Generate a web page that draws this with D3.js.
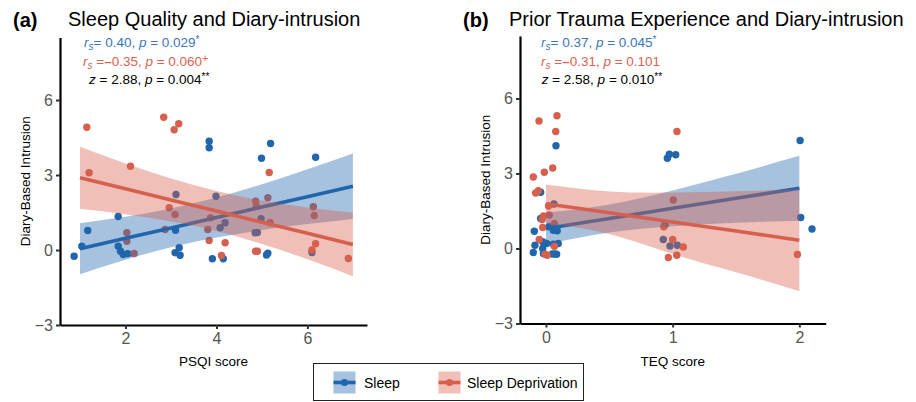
<!DOCTYPE html>
<html>
<head>
<meta charset="utf-8">
<script src="https://cdn.jsdelivr.net/npm/d3@7"></script>
<style>
body { margin: 0; background: #fff; }
text { font-family: "Liberation Sans", Arial, sans-serif; }
</style>
</head>
<body>
<div id="chart"></div>
<script>
// colours of the two conditions
var blue = "#2166ac", red = "#d6604d";
var blueText = "#3a76bb", redText = "#dc634f";

// (a) PSQI score vs diary intrusion, one [x, y] per participant (jittered as in the figure)
var psqiSleep = [[0.87,-0.25],[1.04,0.15],[1.17,0.78],[1.84,1.34],[1.84,0.15],[1.89,-0.05],[1.95,-0.18],[2.05,-0.15],
  [3.11,2.22],[3.10,0.79],[3.09,-0.11],[3.18,0.09],[3.20,-0.21],[3.84,4.35],[3.84,4.09],[3.99,2.15],[3.91,-0.35],
  [4.08,0.89],[4.19,1.09],[4.15,-0.35],[5.19,4.26],[4.99,3.67],[4.98,1.25],[4.85,0.69],[4.90,0.70],[5.10,-0.20],
  [5.13,-0.13],[6.18,3.71],[6.10,-0.10]];
var psqiDep = [[1.15,4.91],[1.20,3.09],[2.11,3.35],[2.84,5.31],[3.17,5.05],[3.07,4.81],[2.96,1.69],[3.09,1.42],
  [2.87,0.82],[2.03,0.69],[2.03,0.35],[2.19,-0.14],[3.84,0.38],[3.81,0.82],[4.11,-0.22],[4.19,0.29],[5.16,3.10],
  [4.86,1.95],[5.13,2.09],[4.88,1.75],[5.18,1.09],[4.86,-0.05],[4.90,-0.05],[6.13,1.73],[6.15,1.38],[6.18,0.25],
  [6.10,0.00],[6.90,-0.34],[3.87,1.29]];

// (a) fitted lines and confidence bands, read at these x positions
var psqiFitX = [1, 2, 3, 4, 5, 6, 7];
var psqiSleepFit = [0.05, 0.47, 0.88, 1.30, 1.72, 2.13, 2.55];
var psqiSleepLo  = [-0.97, -0.39, 0.11, 0.50, 0.80, 1.04, 1.24];
var psqiSleepHi  = [1.07, 1.33, 1.66, 2.10, 2.63, 3.23, 3.86];
var psqiDepFit = [2.89, 2.45, 2.00, 1.56, 1.11, 0.67, 0.22];
var psqiDepLo  = [1.65, 1.43, 1.14, 0.76, 0.24, -0.37, -1.05];
var psqiDepHi  = [4.13, 3.46, 2.86, 2.36, 1.98, 1.70, 1.49];

// (b) TEQ score vs diary intrusion
var teqSleep = [[0.079,4.11],[-0.042,2.25],[0.063,1.78],[-0.042,1.20],[-0.092,0.69],[0.024,0.87],[0.058,0.73],
  [0.089,0.71],[-0.087,0.13],[-0.10,-0.16],[-0.026,0.27],[0.005,0.20],[-0.026,0.00],[0.058,0.17],[0.097,0.20],
  [0.05,-0.22],[0.084,-0.23],[-0.02,-0.20],[0.07,-0.22],
  [0.958,3.61],[0.974,3.77],[1.024,3.75],[0.94,0.95],[0.926,0.36],[0.979,0.10],[1.037,0.13],
  [2.006,4.32],[2.011,1.24],[2.10,0.78]];
var teqDep = [[-0.055,5.10],[0.087,5.31],[0.077,4.68],[-0.10,2.86],[-0.013,3.05],[0.053,3.22],[-0.081,2.22],
  [-0.06,2.31],[0.02,1.70],[-0.02,1.30],[-0.03,1.16],[0.026,1.34],[-0.026,0.84],[-0.053,0.36],[0.066,0.09],
  [-0.008,-0.23],[0.066,1.00],[0.01,-0.27],
  [1.034,4.68],[1.005,1.94],[0.93,0.87],[1.00,0.36],[1.084,0.06],[0.966,-0.36],[1.032,-0.27],
  [1.985,-0.24]];

var teqFitX = [0, 0.5, 1, 1.5, 2];
var teqSleepFit = [0.80, 1.20, 1.61, 2.01, 2.41];
var teqSleepLo  = [0.17, 0.64, 0.89, 1.03, 1.11];
var teqSleepHi  = [1.43, 1.76, 2.32, 2.99, 3.71];
var teqDepFit = [1.79, 1.43, 1.06, 0.70, 0.33];
var teqDepLo  = [1.02, 0.58, -0.22, -0.95, -1.71];
var teqDepHi  = [2.56, 2.28, 2.24, 2.29, 2.37];

var yTicks = [-3, 0, 3, 6];

var w = 916, h = 402;
var svg = d3.select("#chart").append("svg")
  .attr("width", w).attr("height", h);

function drawPanel(p) {
  var x = d3.scaleLinear().domain(p.xDomain).range([p.left, p.right]);
  var y = d3.scaleLinear().domain([-3, 8.5]).range([p.bottom, p.top]);
  var g = svg.append("g");

  // points first, ribbons are drawn over them
  g.selectAll("circle.sleep").data(p.sleep).enter().append("circle")
    .attr("cx", function(d) { return x(d[0]); })
    .attr("cy", function(d) { return y(d[1]); })
    .attr("r", 3.7).attr("fill", blue);
  g.selectAll("circle.dep").data(p.dep).enter().append("circle")
    .attr("cx", function(d) { return x(d[0]); })
    .attr("cy", function(d) { return y(d[1]); })
    .attr("r", 3.7).attr("fill", red);

  function smooth(fit, lo, hi, col) {
    var rows = p.fitX.map(function(v, i) { return {x: v, f: fit[i], lo: lo[i], hi: hi[i]}; });
    g.append("path").datum(rows)
      .attr("fill", col).attr("fill-opacity", 0.4)
      .attr("d", d3.area().curve(d3.curveNatural)
        .x(function(d) { return x(d.x); })
        .y0(function(d) { return y(d.lo); })
        .y1(function(d) { return y(d.hi); }));
    g.append("path").datum(rows)
      .attr("fill", "none").attr("stroke", col).attr("stroke-width", 3.6)
      .attr("d", d3.line()
        .x(function(d) { return x(d.x); })
        .y(function(d) { return y(d.f); }));
  }
  smooth(p.sleepFit, p.sleepLo, p.sleepHi, blue);
  smooth(p.depFit, p.depLo, p.depHi, red);

  // axes
  var ax = g.append("g").attr("transform", "translate(0," + p.bottom + ")")
    .call(d3.axisBottom(x).tickValues(p.xTicks).tickFormat(d3.format("d"))
      .tickSize(4).tickSizeOuter(0).tickPadding(4));
  var ay = g.append("g").attr("transform", "translate(" + p.left + ",0)")
    .call(d3.axisLeft(y).tickValues(yTicks).tickFormat(d3.format("d"))
      .tickSize(4).tickSizeOuter(0).tickPadding(3));
  [ax, ay].forEach(function(a) {
    a.select(".domain").attr("stroke", "#000").attr("stroke-width", 2.2);
    a.selectAll(".tick line").attr("stroke", "#333").attr("stroke-width", 2);
    a.selectAll(".tick text").attr("fill", "#555").style("font-size", "16px")
      .style("font-family", "Liberation Sans, Arial, sans-serif");
  });

  g.append("text").attr("x", (p.left + p.right) / 2).attr("y", 366)
    .attr("text-anchor", "middle").style("font-size", "13.5px").text(p.xLabel);
  g.append("text").attr("transform", "translate(" + p.yLabelX + "," + ((p.top + p.bottom) / 2) + ") rotate(-90)")
    .attr("text-anchor", "middle").style("font-size", "13.5px").text("Diary-Based Intrusion");

  // titles
  g.append("text").attr("x", p.tagX).attr("y", 27).style("font-size", "20px")
    .style("font-weight", "bold").text(p.tag);
  g.append("text").attr("x", p.titleX).attr("y", 26).style("font-size", "20px").text(p.title);

  // statistics
  p.stats.forEach(function(s) {
    var t = g.append("text").attr("x", s.x).attr("y", s.y).attr("fill", s.col)
      .style("font-size", "13.5px");
    s.parts.forEach(function(part) {
      var sp = t.append("tspan").text(part.t);
      if (part.it) sp.style("font-style", "italic");
      if (part.sub) sp.attr("dy", 3).style("font-size", "10px");
      if (part.back) sp.attr("dy", -3);
      if (part.sup) sp.attr("dy", -4).style("font-size", "10px");
      if (part.bold) sp.style("font-weight", "bold");
    });
  });
}

function statParts(r, minus, pval, mark) {
  var parts = [{t: "r", it: true}, {t: "s", sub: true, it: true}];
  if (minus) {
    parts.push({t: " =", back: true});
    parts.push({t: "\u2013", bold: true});
    parts.push({t: r + ", "});
  } else {
    parts.push({t: "= " + r + ", ", back: true});
  }
  parts.push({t: "p", it: true});
  parts.push({t: " = " + pval});
  if (mark) parts.push({t: mark, sup: true});
  return parts;
}
function zParts(z, pval) {
  return [{t: "z", it: true}, {t: " = " + z + ", "}, {t: "p", it: true}, {t: " = " + pval}, {t: "**", sup: true}];
}

drawPanel({
  left: 60, right: 367, top: 37.5, bottom: 325,
  xDomain: [0.56, 7.31], xTicks: [2, 4, 6], xLabel: "PSQI score", yLabelX: 30,
  sleep: psqiSleep, dep: psqiDep, fitX: psqiFitX,
  sleepFit: psqiSleepFit, sleepLo: psqiSleepLo, sleepHi: psqiSleepHi,
  depFit: psqiDepFit, depLo: psqiDepLo, depHi: psqiDepHi,
  tag: "(a)", tagX: 13, title: "Sleep Quality and Diary-intrusion", titleX: 68,
  stats: [
    {x: 84, y: 46.7, col: blueText, parts: statParts("0.40", false, "0.029", "*")},
    {x: 83, y: 65.5, col: redText, parts: statParts("0.35", true, "0.060", "+")},
    {x: 89, y: 84.3, col: "#000", parts: zParts("2.88", "0.004")}
  ]
});

drawPanel({
  left: 520, right: 825.7, top: 36, bottom: 323.5,
  xDomain: [-0.205, 2.208], xTicks: [0, 1, 2], xLabel: "TEQ score", yLabelX: 490,
  sleep: teqSleep, dep: teqDep, fitX: teqFitX,
  sleepFit: teqSleepFit, sleepLo: teqSleepLo, sleepHi: teqSleepHi,
  depFit: teqDepFit, depLo: teqDepLo, depHi: teqDepHi,
  tag: "(b)", tagX: 463, title: "Prior Trauma Experience and Diary-intrusion", titleX: 509,
  stats: [
    {x: 541, y: 46.7, col: blueText, parts: statParts("0.37", false, "0.045", "*")},
    {x: 541, y: 65.5, col: redText, parts: statParts("0.31", true, "0.101", "")},
    {x: 541.7, y: 84.3, col: "#000", parts: zParts("2.58", "0.010")}
  ]
});

// legend
var legendItems = ["Sleep", "Sleep Deprivation"];
var legendCols = [blue, red];
var legendX = [333.5, 438.5], legendTextX = [364, 467];
var lg = svg.append("g");
lg.append("rect").attr("x", 313.5).attr("y", 363.5).attr("width", 270).attr("height", 37)
  .attr("fill", "#fff").attr("stroke", "#222").attr("stroke-width", 1);
legendItems.forEach(function(name, i) {
  var kx = legendX[i], ky = 371.5;
  lg.append("rect").attr("x", kx).attr("y", ky).attr("width", 22).attr("height", 22)
    .attr("fill", legendCols[i]).attr("fill-opacity", 0.4);
  lg.append("line").attr("x1", kx).attr("x2", kx + 22).attr("y1", ky + 11).attr("y2", ky + 11)
    .attr("stroke", legendCols[i]).attr("stroke-width", 3.6);
  lg.append("circle").attr("cx", kx + 11).attr("cy", ky + 11).attr("r", 3.6).attr("fill", legendCols[i]);
  lg.append("text").attr("x", legendTextX[i]).attr("y", 388).style("font-size", "14px").text(name);
});
</script>
</body>
</html>
